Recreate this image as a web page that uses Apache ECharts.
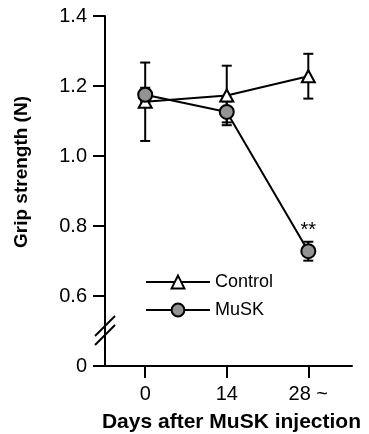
<!DOCTYPE html>
<html>
<head>
<meta charset="utf-8">
<script src="https://cdn.jsdelivr.net/npm/echarts@6/dist/echarts.min.js"></script>
<style>
html,body{margin:0;padding:0;background:#fff;}
#c{width:369px;height:434px;}
</style>
</head>
<body>
<div id="c"></div>
<script>
// ---- data ----
var days = [0, 14, 28];
var xTickLabels = ['0', '14', '28 ~'];
var controlMean = [1.155, 1.173, 1.228];
var controlErr  = [0.112, 0.085, 0.064];
var muskMean    = [1.175, 1.126, 0.728];
var muskErr     = [0.02, 0.03, 0.027];
var yTicks = [0.4, 0.6, 0.8, 1.0, 1.2, 1.4];
var yTickLabels = ['0', '0.6', '0.8', '1.0', '1.2', '1.4'];
var sigMark = '**';

var FONT = '"Liberation Sans", Arial, Helvetica, sans-serif';
var chart = echarts.init(document.getElementById('c'), null, {renderer: 'canvas'});

function pairs(m) { return days.map(function (d, i) { return [d, m[i]]; }); }
function errData(m, e) { return days.map(function (d, i) { return [d, m[i] - e[i], m[i] + e[i]]; }); }

function errRender(params, api) {
  var x = api.value(0);
  var lo = api.coord([x, api.value(1)]);
  var hi = api.coord([x, api.value(2)]);
  var w = 5;
  var st = {stroke: '#000', lineWidth: 2};
  return {
    type: 'group',
    children: [
      {type: 'line', shape: {x1: lo[0], y1: lo[1], x2: hi[0], y2: hi[1]}, style: st},
      {type: 'line', shape: {x1: lo[0] - w, y1: lo[1], x2: lo[0] + w, y2: lo[1]}, style: st},
      {type: 'line', shape: {x1: hi[0] - w, y1: hi[1], x2: hi[0] + w, y2: hi[1]}, style: st}
    ]
  };
}

var muskData = pairs(muskMean).map(function (p, i) {
  if (i === days.length - 1) {
    return {value: p, label: {show: true, formatter: sigMark, position: 'top', distance: 3,
      color: '#000', fontSize: 20, fontFamily: FONT}};
  }
  return p;
});

var option = {
  animation: false,
  backgroundColor: '#fff',
  grid: {left: 105, right: 17, top: 16, bottom: 68, containLabel: false},
  xAxis: {
    type: 'value', min: -6.9, max: 35.5,
    splitLine: {show: false},
    axisLine: {show: true, onZero: false, lineStyle: {color: '#000', width: 2}},
    axisTick: {show: true, length: 12, lineStyle: {color: '#000', width: 2}, customValues: days},
    axisLabel: {show: true, customValues: days, color: '#000', fontSize: 20, fontFamily: FONT, margin: 18,
      formatter: function (v) { var i = days.indexOf(v); return i >= 0 ? xTickLabels[i] : ''; }}
  },
  yAxis: {
    type: 'value', min: 0.4, max: 1.4, interval: 0.2,
    splitLine: {show: false},
    axisLine: {show: true, onZero: false, lineStyle: {color: '#000', width: 2}},
    axisTick: {show: true, length: 12, lineStyle: {color: '#000', width: 2}},
    axisLabel: {color: '#000', fontSize: 20, fontFamily: FONT, margin: 18,
      formatter: function (v) {
        for (var i = 0; i < yTicks.length; i++) if (Math.abs(yTicks[i] - v) < 1e-6) return yTickLabels[i];
        return '';
      }}
  },
  legend: {
    orient: 'vertical', left: 145, top: 273, padding: 0, itemWidth: 64, itemHeight: 16, itemGap: 10,
    textStyle: {color: '#000', fontSize: 18, fontFamily: FONT},
    data: ['Control', 'MuSK']
  },
  series: [
    {type: 'custom', name: 'ctrlErr', renderItem: errRender, data: errData(controlMean, controlErr), z: 1, silent: true},
    {type: 'custom', name: 'muskErr', renderItem: errRender, data: errData(muskMean, muskErr), z: 1, silent: true},
    {type: 'line', name: 'Control', data: pairs(controlMean), symbol: 'triangle', symbolSize: [13, 12],
      lineStyle: {color: '#000', width: 2}, itemStyle: {color: '#fff', borderColor: '#000', borderWidth: 2}, z: 2},
    {type: 'line', name: 'MuSK', data: muskData, symbol: 'circle', symbolSize: 14,
      lineStyle: {color: '#000', width: 2}, itemStyle: {color: '#939393', borderColor: '#000', borderWidth: 2}, z: 3}
  ]
};
chart.setOption(option);

// decorations: axis titles and axis-break marks
var axX = chart.convertToPixel({xAxisIndex: 0}, -6.9);
var brY = chart.convertToPixel({yAxisIndex: 0}, 0.5);
chart.setOption({
  graphic: [
    {type: 'text', x: 361, y: 412, style: {text: 'Days after MuSK injection', fill: '#000', fontSize: 21, fontWeight: 'bold', fontFamily: FONT, align: 'right', verticalAlign: 'top'}},
    {type: 'text', x: 12, y: 172, rotation: Math.PI / 2, style: {text: 'Grip strength (N)', fill: '#000', fontSize: 19, fontWeight: 'bold', fontFamily: FONT, align: 'center', verticalAlign: 'top'}},
    {type: 'line', shape: {x1: axX - 10, y1: brY + 5, x2: axX + 10, y2: brY - 15}, style: {stroke: '#000', lineWidth: 2}},
    {type: 'line', shape: {x1: axX - 10, y1: brY + 14, x2: axX + 10, y2: brY - 6}, style: {stroke: '#000', lineWidth: 2}}
  ]
});
</script>
</body>
</html>
